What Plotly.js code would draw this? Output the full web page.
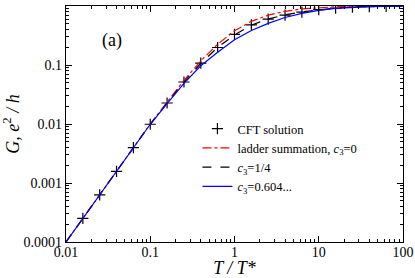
<!DOCTYPE html>
<html>
<head>
<meta charset="utf-8">
<script src="https://cdn.plot.ly/plotly-3.0.1.min.js"></script>
<style>html,body{margin:0;padding:0;background:#fff;}#chart{width:415px;height:278px;}</style>
</head>
<body>
<div id="chart"></div>
<script>
// T/T* grid for the curves (0.2-decade steps)
const tGrid = [0.01, 0.01585, 0.02512, 0.03981, 0.0631, 0.1, 0.1585, 0.2512, 0.3981, 0.631, 1, 1.585, 2.512, 3.981, 6.31, 10, 15.85, 25.12, 39.81, 63.1, 100];
const gLadder = [0.0001, 0.000251, 0.00063, 0.00159, 0.00399, 0.0100, 0.0236, 0.0547, 0.1175, 0.225, 0.380, 0.550, 0.700, 0.813, 0.891, 0.940, 0.971, 0.986, 0.993, 0.998, 1.0];
const gQuarter = [0.0001, 0.000251, 0.00063, 0.00158, 0.00398, 0.0099, 0.0227, 0.0514, 0.107, 0.198, 0.324, 0.473, 0.603, 0.708, 0.794, 0.867, 0.923, 0.962, 0.984, 0.995, 0.998];
const gC604 = [0.0001, 0.000251, 0.00063, 0.00158, 0.00398, 0.0099, 0.0222, 0.049, 0.097, 0.164, 0.267, 0.385, 0.507, 0.638, 0.750, 0.841, 0.908, 0.953, 0.977, 0.989, 0.995];
// CFT solution points
const tCFT = [0.01585, 0.02512, 0.03981, 0.0631, 0.1, 0.1585, 0.2512, 0.3981, 0.631, 1, 1.585, 2.512, 3.981, 6.31, 10, 15.85, 25.12, 39.81, 63.1];
const gCFT = [0.000251, 0.00063, 0.00158, 0.00398, 0.0099, 0.0227, 0.0515, 0.108, 0.198, 0.330, 0.480, 0.598, 0.700, 0.790, 0.865, 0.920, 0.958, 0.978, 0.985];
// tick labels
const xTickVals = [0.01, 0.1, 1, 10, 100];
const xTickText = ["0.01", "0.1", "1", "10", "100"];
const yTickVals = [0.0001, 0.001, 0.01, 0.1, 1];
const yTickText = ["0.0001", "0.001", "0.01", "0.1", "1"];

function minorVals(lo, hi) {
  const v = [];
  for (let e = lo; e < hi; e++) for (let m = 2; m <= 9; m++) v.push(m * Math.pow(10, e));
  return v;
}

const serif = "Liberation Serif";

const traces = [
  {x: tCFT, y: gCFT, mode: 'markers', name: 'CFT solution',
   marker: {symbol: 'cross-thin-open', size: 8, color: '#000', line: {width: 1.2, color: '#000'}}},
  {x: tGrid, y: gLadder, mode: 'lines', name: 'ladder summation, <i>c</i><sub>3</sub>=0',
   line: {color: '#ff0000', width: 1.2, dash: 'dashdot'}},
  {x: tGrid, y: gQuarter, mode: 'lines', name: '<i>c</i><sub>3</sub>=1/4',
   line: {color: '#000000', width: 1.2, dash: 'dash'}},
  {x: tGrid, y: gC604, mode: 'lines', name: '<i>c</i><sub>3</sub>=0.604...',
   line: {color: '#0000ff', width: 1.2}}
];

const axisCommon = {
  type: 'log', showgrid: false, zeroline: false, showline: true, linecolor: '#000', linewidth: 1.2,
  mirror: 'ticks', ticks: 'inside', ticklen: 6, tickwidth: 1, tickcolor: '#000',
  tickfont: {family: serif, size: 14, color: '#000'}, tickmode: 'array'
};

const layout = {
  width: 415, height: 278,
  margin: {l: 66, r: 12, t: 6, b: 36},
  paper_bgcolor: '#fff', plot_bgcolor: '#fff',
  font: {family: serif, color: '#000'},
  showlegend: true,
  legend: {x: 0.39, y: 0.542, xanchor: 'left', yanchor: 'top', bgcolor: 'rgba(0,0,0,0)',
           font: {family: serif, size: 12.5, color: '#000'}, tracegroupgap: 0, itemwidth: 30},
  xaxis: Object.assign({}, axisCommon, {
    range: [-2, 2], tickvals: xTickVals, ticktext: xTickText, ticklabelstandoff: -3,
    minor: {tickmode: 'array', tickvals: minorVals(-2, 2), ticks: 'inside', ticklen: 3, tickwidth: 1, tickcolor: '#000'},
    title: {text: '<i>T / T*</i>', font: {family: serif, size: 18, color: '#000'}, standoff: 10}
  }),
  yaxis: Object.assign({}, axisCommon, {
    range: [-4, 0], tickvals: yTickVals, ticktext: yTickText,
    minor: {tickmode: 'array', tickvals: minorVals(-4, 0), ticks: 'inside', ticklen: 3, tickwidth: 1, tickcolor: '#000'},
    title: {text: '<i>G, e</i><sup>2</sup><i> / h</i>', font: {family: serif, size: 18, color: '#000'}, standoff: 4}
  }),
  annotations: [
    {x: Math.log10(0.035), y: Math.log10(0.26), xref: 'x', yref: 'y', text: '(a)', showarrow: false,
     font: {family: serif, size: 18, color: '#000'}}
  ]
};

Plotly.newPlot('chart', traces, layout, {displayModeBar: false, staticPlot: true});
</script>
</body>
</html>
